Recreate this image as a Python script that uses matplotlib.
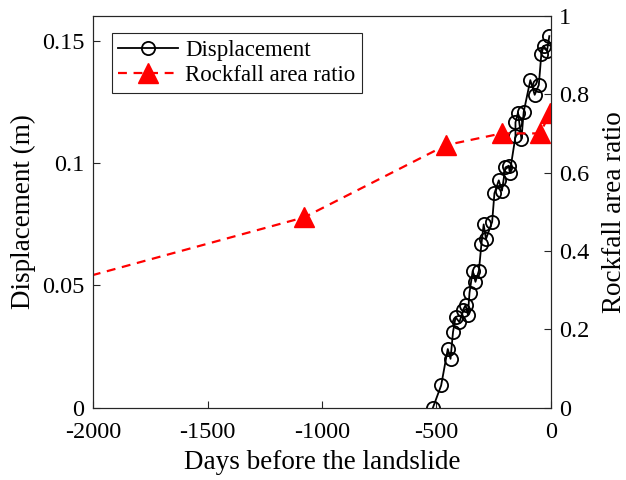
import matplotlib
matplotlib.use('Agg')
import matplotlib.pyplot as plt

plt.rcParams['font.family'] = ['Liberation Serif', 'DejaVu Serif']

# displacement monitoring (days before landslide, m)
disp_days = [-515, -479, -450, -438, -427, -416, -399, -383, -372, -362,
             -355, -341, -329, -314, -303, -293, -283, -256, -246, -227,
             -213, -198, -183, -179, -154, -154, -143, -128, -118, -89,
             -70, -52, -41, -31, -16, -6]
disp_vals = [0.0, 0.0091, 0.024, 0.020, 0.031, 0.037, 0.035, 0.040, 0.042, 0.038,
             0.047, 0.056, 0.0515, 0.056, 0.0668, 0.075, 0.069, 0.076, 0.0877, 0.093,
             0.0888, 0.0983, 0.099, 0.096, 0.111, 0.1167, 0.1207, 0.110, 0.121, 0.134,
             0.128, 0.132, 0.1445, 0.148, 0.146, 0.152]

# rockfall area ratio
rock_days = [-2400, -1077, -458, -214, -47, -3]
rock_vals = [0.275, 0.486, 0.670, 0.700, 0.700, 0.751]

xticks = [-2000, -1500, -1000, -500, 0]
yticks_left = [0, 0.05, 0.1, 0.15]
yticks_right = [0, 0.2, 0.4, 0.6, 0.8, 1.0]

fig = plt.figure(figsize=(6.26, 4.8), dpi=100)
ax = fig.add_axes([0.149, 0.1506, 0.7307, 0.8164])
ax2 = ax.twinx()

l1, = ax.plot(disp_days, disp_vals, '-o', color='black', lw=1.3,
              mfc='none', mec='black', ms=9.5, mew=1.3, label='Displacement')
l2, = ax2.plot(rock_days, rock_vals, '--^', color='red', lw=1.6,
               ms=14, mfc='red', mec='red', dashes=(4, 3),
               label='Rockfall area ratio')

ax.set_xlim(-2000, 0)
ax.set_ylim(0, 0.1603)
ax2.set_ylim(0, 1)

ax.set_xticks(xticks)
ax.set_xticklabels([str(t) for t in xticks])
ax.set_yticks(yticks_left)
ax.set_yticklabels(['0', '0.05', '0.1', '0.15'])
ax2.set_yticks(yticks_right)
ax2.set_yticklabels(['0', '0.2', '0.4', '0.6', '0.8', '1'])

for a in (ax, ax2):
    a.tick_params(direction='in', labelsize=17.5, length=5, width=0.8,
                  colors='#262626', labelcolor='black')
    for s in a.spines.values():
        s.set_color('#262626')
        s.set_linewidth(0.8)
ax.tick_params(axis='x', pad=10)
ax.tick_params(axis='y', pad=6.5)
ax2.tick_params(axis='y', pad=6)

ax.set_xlabel('Days before the landslide', fontsize=19.5, labelpad=5)
ax.set_ylabel('Displacement (m)', fontsize=19.5, labelpad=4)
ax2.set_ylabel('Rockfall area ratio', fontsize=19.5, labelpad=9)

leg = ax2.legend([l1, l2], ['Displacement', 'Rockfall area ratio'],
                 loc='upper left', bbox_to_anchor=(0.04, 0.955),
                 fontsize=16.5, fancybox=False, framealpha=1,
                 edgecolor='#262626', handlelength=2.6, borderpad=0.3,
                 labelspacing=0.15, handletextpad=0.3, borderaxespad=0)
leg.get_frame().set_linewidth(0.8)

fig.savefig('out.png', dpi=100)
